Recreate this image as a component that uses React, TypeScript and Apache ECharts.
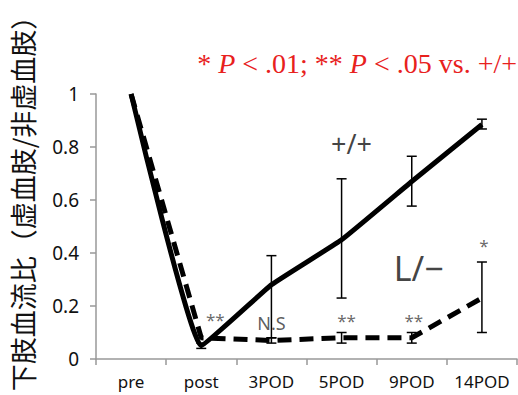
import React, { useEffect, useRef } from "react";
import * as echarts from "echarts";

const categories = ["pre", "post", "3POD", "5POD", "9POD", "14POD"];
const wildMean = [1.0, 0.05, 0.28, 0.45, 0.67, 0.885];
const wildLow = [null, 0.04, 0.08, 0.23, 0.577, 0.868];
const wildHigh = [null, 0.06, 0.39, 0.68, 0.765, 0.905];
const lMean = [1.0, 0.08, 0.07, 0.08, 0.08, 0.23];
const lLow = [null, null, 0.06, 0.06, 0.06, 0.1];
const lHigh = [null, null, 0.08, 0.1, 0.1, 0.366];
const yTicks = [0, 0.2, 0.4, 0.6, 0.8, 1];

const sigMarks = [
  { cat: "post", y: 0.15, text: "**", dx: 14 },
  { cat: "3POD", y: 0.135, text: "N.S", dx: 0 },
  { cat: "5POD", y: 0.145, text: "**", dx: 5 },
  { cat: "9POD", y: 0.145, text: "**", dx: 2 },
  { cat: "14POD", y: 0.43, text: "*", dx: 2 },
];
const groupLabels = [
  { cat: "5POD", y: 0.815, text: "+/+", dx: 10, size: 27 },
  { cat: "9POD", y: 0.345, text: "L/\u2212", dx: 7, size: 34 },
];

function errorSeries(low: (number | null)[], high: (number | null)[]) {
  const data: number[][] = [];
  low.forEach((l, i) => {
    const h = high[i];
    if (l != null && h != null) data.push([i, l, h]);
  });
  return {
    type: "custom",
    z: 5,
    renderItem: (params: any, api: any) => {
      const x = api.value(0);
      const lo = api.coord([x, api.value(1)]);
      const hi = api.coord([x, api.value(2)]);
      const cap = 5;
      const style = { stroke: "#000", lineWidth: 1.5 };
      return {
        type: "group",
        children: [
          { type: "line", shape: { x1: lo[0], y1: lo[1], x2: hi[0], y2: hi[1] }, style },
          { type: "line", shape: { x1: lo[0] - cap, y1: lo[1], x2: lo[0] + cap, y2: lo[1] }, style },
          { type: "line", shape: { x1: hi[0] - cap, y1: hi[1], x2: hi[0] + cap, y2: hi[1] }, style },
        ],
      };
    },
    data,
  };
}

export default function App() {
  const ref = useRef<HTMLDivElement>(null);
  useEffect(() => {
    const chart = echarts.init(ref.current!, null, { renderer: "svg" });
    chart.setOption({
      animation: false,
      backgroundColor: "#fff",
      grid: { left: 96, right: 1, top: 94, bottom: 36 },
      xAxis: {
        type: "category",
        data: categories,
        boundaryGap: true,
        axisLine: { lineStyle: { color: "#999", width: 1.5 } },
        axisTick: { show: true, length: 6, interval: 0, lineStyle: { color: "#999", width: 1.5 } },
        axisLabel: { color: "#111", fontSize: 17, fontFamily: "Noto Sans", margin: 14, interval: 0 },
      },
      yAxis: {
        type: "value",
        min: 0,
        max: 1,
        interval: 0.2,
        splitLine: { show: false },
        axisLine: { show: true, lineStyle: { color: "#999", width: 1.5 } },
        axisTick: { show: true, length: 6, lineStyle: { color: "#999", width: 1.5 } },
        axisLabel: {
          color: "#111",
          fontSize: 19,
          fontFamily: "Noto Sans",
          margin: 17,
          formatter: (v: number) => (yTicks.includes(Math.round(v * 10) / 10) ? String(Math.round(v * 10) / 10) : ""),
        },
      },
      graphic: [
        {
          type: "text",
          x: 22,
          y: 197,
          rotation: Math.PI / 2,
          style: {
            text: "下肢血流比（虚血肢/非虚血肢）",
            fontSize: 27,
            fontFamily: "Noto Sans CJK JP",
            fill: "#111",
            align: "center",
            verticalAlign: "middle",
          },
        },
        {
          type: "text",
          x: 517,
          y: 63,
          style: {
            text: "{n|* }{i|P}{n| < .01; ** }{i|P}{n| < .05 vs. +/+}",
            align: "right",
            verticalAlign: "middle",
            rich: {
              n: { fontSize: 28, fontFamily: "Liberation Serif", fill: "#e8211d", color: "#e8211d" },
              i: { fontSize: 28, fontFamily: "Liberation Serif", fontStyle: "italic", fill: "#e8211d", color: "#e8211d" },
            },
          },
        },
      ],
      series: [
        {
          type: "line",
          data: lMean,
          symbol: "none",
          z: 3,
          lineStyle: { color: "#000", width: 5, type: [14, 8] },
        },
        {
          type: "line",
          data: wildMean,
          symbol: "none",
          smooth: 0.1,
          z: 4,
          lineStyle: { color: "#000", width: 5 },
        },
        errorSeries(wildLow, wildHigh),
        errorSeries(lLow, lHigh),
        {
          type: "scatter",
          symbolSize: 0,
          z: 6,
          data: sigMarks.map((m) => ({
            value: [m.cat, m.y],
            label: {
              show: true,
              formatter: m.text,
              offset: [m.dx, 0],
              color: m.text === "N.S" ? "#333" : "#444",
              fontSize: m.text === "N.S" ? 18 : 17,
              fontFamily: "Noto Sans",
              position: "inside",
            },
          })),
        },
        {
          type: "scatter",
          symbolSize: 0,
          z: 6,
          data: groupLabels.map((m) => ({
            value: [m.cat, m.y],
            label: {
              show: true,
              formatter: m.text,
              offset: [m.dx, 0],
              color: "#111",
              fontSize: m.size,
              fontFamily: "Noto Sans",
              position: "inside",
            },
          })),
        },
      ],
    });
    return () => chart.dispose();
  }, []);
  return <div ref={ref} style={{ position: "fixed", left: 0, top: 0, width: 518, height: 395 }} />;
}
